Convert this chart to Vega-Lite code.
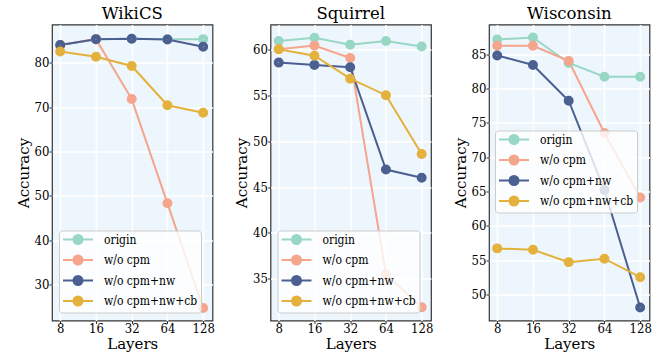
{
  "$schema": "https://vega.github.io/schema/vega-lite/v6.json",
  "background": "white",
  "padding": {"left": 15, "top": 4.5, "right": 5, "bottom": 0},
  "autosize": {"type": "pad"},
  "spacing": 57.5,
  "bounds": "flush",
  "config": {
    "view": {"fill": "#eef6fd", "stroke": "#333333", "strokeWidth": 1.2},
    "title": {"font": "DejaVu Serif", "fontSize": 16.5, "fontWeight": "normal", "color": "#000000", "offset": 2, "baseline": "alphabetic"},
    "axis": {
      "labelFont": "DejaVu Serif Condensed", "labelFontSize": 13, "labelColor": "#000000",
      "titleFont": "DejaVu Serif", "titleFontSize": 15, "titleFontWeight": "normal", "titleColor": "#000000",
      "domain": false, "tickColor": "#333333", "tickSize": 3, "tickWidth": 1, "labelPadding": 0,
      "gridColor": "#ffffff", "gridWidth": 1.6, "gridOpacity": 1
    },
    "axisX": {"titlePadding": 1, "labelAngle": 0, "labelPadding": -1.5},
    "axisY": {"titlePadding": 3},
    "legend": {
      "labelFont": "DejaVu Serif Condensed", "labelFontSize": 12, "labelColor": "#000000",
      "fillColor": "rgba(255,255,255,0.8)", "strokeColor": "#cccccc", "cornerRadius": 3,
      "padding": 3, "rowPadding": 2.5, "symbolSize": 100, "symbolStrokeWidth": 2, "symbolOpacity": 1,
      "symbolType": "M-3,0L3,0M-0.9,0A0.9,0.9,0,1,1,0.9,0A0.9,0.9,0,1,1,-0.9,0M-0.5,0A0.5,0.5,0,1,1,0.5,0A0.5,0.5,0,1,1,-0.5,0M-0.1,0A0.1,0.1,0,1,1,0.1,0A0.1,0.1,0,1,1,-0.1,0",
      "labelOffset": 20, "symbolOffset": 10, "title": null
    }
  },
  "data": {"values": [
    {"d": "WikiCS", "m": "origin", "layers": 8, "acc": 84.0},
    {"d": "WikiCS", "m": "origin", "layers": 16, "acc": 85.3},
    {"d": "WikiCS", "m": "origin", "layers": 32, "acc": 85.4},
    {"d": "WikiCS", "m": "origin", "layers": 64, "acc": 85.3},
    {"d": "WikiCS", "m": "origin", "layers": 128, "acc": 85.3},
    {"d": "WikiCS", "m": "w/o cpm", "layers": 8, "acc": 84.0},
    {"d": "WikiCS", "m": "w/o cpm", "layers": 16, "acc": 85.3},
    {"d": "WikiCS", "m": "w/o cpm", "layers": 32, "acc": 71.8},
    {"d": "WikiCS", "m": "w/o cpm", "layers": 64, "acc": 48.3},
    {"d": "WikiCS", "m": "w/o cpm", "layers": 128, "acc": 24.7},
    {"d": "WikiCS", "m": "w/o cpm+nw", "layers": 8, "acc": 84.0},
    {"d": "WikiCS", "m": "w/o cpm+nw", "layers": 16, "acc": 85.3},
    {"d": "WikiCS", "m": "w/o cpm+nw", "layers": 32, "acc": 85.4},
    {"d": "WikiCS", "m": "w/o cpm+nw", "layers": 64, "acc": 85.2},
    {"d": "WikiCS", "m": "w/o cpm+nw", "layers": 128, "acc": 83.6},
    {"d": "WikiCS", "m": "w/o cpm+nw+cb", "layers": 8, "acc": 82.5},
    {"d": "WikiCS", "m": "w/o cpm+nw+cb", "layers": 16, "acc": 81.35},
    {"d": "WikiCS", "m": "w/o cpm+nw+cb", "layers": 32, "acc": 79.25},
    {"d": "WikiCS", "m": "w/o cpm+nw+cb", "layers": 64, "acc": 70.4},
    {"d": "WikiCS", "m": "w/o cpm+nw+cb", "layers": 128, "acc": 68.7},
    {"d": "Squirrel", "m": "origin", "layers": 8, "acc": 60.9},
    {"d": "Squirrel", "m": "origin", "layers": 16, "acc": 61.25},
    {"d": "Squirrel", "m": "origin", "layers": 32, "acc": 60.5},
    {"d": "Squirrel", "m": "origin", "layers": 64, "acc": 60.9},
    {"d": "Squirrel", "m": "origin", "layers": 128, "acc": 60.3},
    {"d": "Squirrel", "m": "w/o cpm", "layers": 8, "acc": 60.0},
    {"d": "Squirrel", "m": "w/o cpm", "layers": 16, "acc": 60.4},
    {"d": "Squirrel", "m": "w/o cpm", "layers": 32, "acc": 59.05},
    {"d": "Squirrel", "m": "w/o cpm", "layers": 64, "acc": 35.5},
    {"d": "Squirrel", "m": "w/o cpm", "layers": 128, "acc": 31.9},
    {"d": "Squirrel", "m": "w/o cpm+nw", "layers": 8, "acc": 58.55},
    {"d": "Squirrel", "m": "w/o cpm+nw", "layers": 16, "acc": 58.3},
    {"d": "Squirrel", "m": "w/o cpm+nw", "layers": 32, "acc": 58.05},
    {"d": "Squirrel", "m": "w/o cpm+nw", "layers": 64, "acc": 46.9},
    {"d": "Squirrel", "m": "w/o cpm+nw", "layers": 128, "acc": 46.0},
    {"d": "Squirrel", "m": "w/o cpm+nw+cb", "layers": 8, "acc": 60.0},
    {"d": "Squirrel", "m": "w/o cpm+nw+cb", "layers": 16, "acc": 59.3},
    {"d": "Squirrel", "m": "w/o cpm+nw+cb", "layers": 32, "acc": 56.8},
    {"d": "Squirrel", "m": "w/o cpm+nw+cb", "layers": 64, "acc": 55.0},
    {"d": "Squirrel", "m": "w/o cpm+nw+cb", "layers": 128, "acc": 48.6},
    {"d": "Wisconsin", "m": "origin", "layers": 8, "acc": 87.1},
    {"d": "Wisconsin", "m": "origin", "layers": 16, "acc": 87.4},
    {"d": "Wisconsin", "m": "origin", "layers": 32, "acc": 83.7},
    {"d": "Wisconsin", "m": "origin", "layers": 64, "acc": 81.7},
    {"d": "Wisconsin", "m": "origin", "layers": 128, "acc": 81.7},
    {"d": "Wisconsin", "m": "w/o cpm", "layers": 8, "acc": 86.2},
    {"d": "Wisconsin", "m": "w/o cpm", "layers": 16, "acc": 86.2},
    {"d": "Wisconsin", "m": "w/o cpm", "layers": 32, "acc": 84.0},
    {"d": "Wisconsin", "m": "w/o cpm", "layers": 64, "acc": 73.5},
    {"d": "Wisconsin", "m": "w/o cpm", "layers": 128, "acc": 64.1},
    {"d": "Wisconsin", "m": "w/o cpm+nw", "layers": 8, "acc": 84.8},
    {"d": "Wisconsin", "m": "w/o cpm+nw", "layers": 16, "acc": 83.4},
    {"d": "Wisconsin", "m": "w/o cpm+nw", "layers": 32, "acc": 78.2},
    {"d": "Wisconsin", "m": "w/o cpm+nw", "layers": 64, "acc": 65.2},
    {"d": "Wisconsin", "m": "w/o cpm+nw", "layers": 128, "acc": 48.1},
    {"d": "Wisconsin", "m": "w/o cpm+nw+cb", "layers": 8, "acc": 56.7},
    {"d": "Wisconsin", "m": "w/o cpm+nw+cb", "layers": 16, "acc": 56.5},
    {"d": "Wisconsin", "m": "w/o cpm+nw+cb", "layers": 32, "acc": 54.7},
    {"d": "Wisconsin", "m": "w/o cpm+nw+cb", "layers": 64, "acc": 55.2},
    {"d": "Wisconsin", "m": "w/o cpm+nw+cb", "layers": 128, "acc": 52.5}
  ]},
  "resolve": {"scale": {"y": "independent"}, "legend": {"color": "independent"}},
  "hconcat": [
    {
      "width": 160.5, "height": 296,
      "title": "WikiCS",
      "transform": [{"filter": "datum.d == 'WikiCS'"}],
      "encoding": {
        "x": {"field": "layers", "type": "quantitative", "title": "Layers",
              "scale": {"type": "log", "base": 2, "domain": [6.82, 153.4], "nice": false},
              "axis": {"values": [8, 16, 32, 64, 128], "format": "d"}},
        "y": {"field": "acc", "type": "quantitative", "title": "Accuracy",
              "scale": {"domain": [21.9, 88.6], "nice": false, "zero": false},
              "axis": {"values": [30, 40, 50, 60, 70, 80]}},
        "color": {"field": "m", "type": "nominal",
                  "scale": {"domain": ["origin", "w/o cpm", "w/o cpm+nw", "w/o cpm+nw+cb"], "range": ["#97d7c4", "#f4a58c", "#4b5f91", "#e3b13c"]},
                  "legend": {"orient": "none", "legendX": 7, "legendY": 206}}
      },
      "layer": [
        {"mark": {"type": "line", "strokeWidth": 2}},
        {"mark": {"type": "point", "filled": false, "size": 20, "strokeWidth": 5.5, "opacity": 1}}
      ]
    },
    {
      "width": 160.5, "height": 296,
      "title": "Squirrel",
      "transform": [{"filter": "datum.d == 'Squirrel'"}],
      "encoding": {
        "x": {"field": "layers", "type": "quantitative", "title": "Layers",
              "scale": {"type": "log", "base": 2, "domain": [6.82, 153.4], "nice": false},
              "axis": {"values": [8, 16, 32, 64, 128], "format": "d"}},
        "y": {"field": "acc", "type": "quantitative", "title": "Accuracy",
              "scale": {"domain": [30.46, 62.7], "nice": false, "zero": false},
              "axis": {"values": [35, 40, 45, 50, 55, 60]}},
        "color": {"field": "m", "type": "nominal",
                  "scale": {"domain": ["origin", "w/o cpm", "w/o cpm+nw", "w/o cpm+nw+cb"], "range": ["#97d7c4", "#f4a58c", "#4b5f91", "#e3b13c"]},
                  "legend": {"orient": "none", "legendX": 7, "legendY": 206}}
      },
      "layer": [
        {"mark": {"type": "line", "strokeWidth": 2}},
        {"mark": {"type": "point", "filled": false, "size": 20, "strokeWidth": 5.5, "opacity": 1}}
      ]
    },
    {
      "width": 160.5, "height": 296,
      "title": "Wisconsin",
      "transform": [{"filter": "datum.d == 'Wisconsin'"}],
      "encoding": {
        "x": {"field": "layers", "type": "quantitative", "title": "Layers",
              "scale": {"type": "log", "base": 2, "domain": [6.82, 153.4], "nice": false},
              "axis": {"values": [8, 16, 32, 64, 128], "format": "d"}},
        "y": {"field": "acc", "type": "quantitative", "title": "Accuracy",
              "scale": {"domain": [46.2, 89.3], "nice": false, "zero": false},
              "axis": {"values": [50, 55, 60, 65, 70, 75, 80, 85]}},
        "color": {"field": "m", "type": "nominal",
                  "scale": {"domain": ["origin", "w/o cpm", "w/o cpm+nw", "w/o cpm+nw+cb"], "range": ["#97d7c4", "#f4a58c", "#4b5f91", "#e3b13c"]},
                  "legend": {"orient": "none", "legendX": 6, "legendY": 106}}
      },
      "layer": [
        {"mark": {"type": "line", "strokeWidth": 2}},
        {"mark": {"type": "point", "filled": false, "size": 20, "strokeWidth": 5.5, "opacity": 1}}
      ]
    }
  ]
}
